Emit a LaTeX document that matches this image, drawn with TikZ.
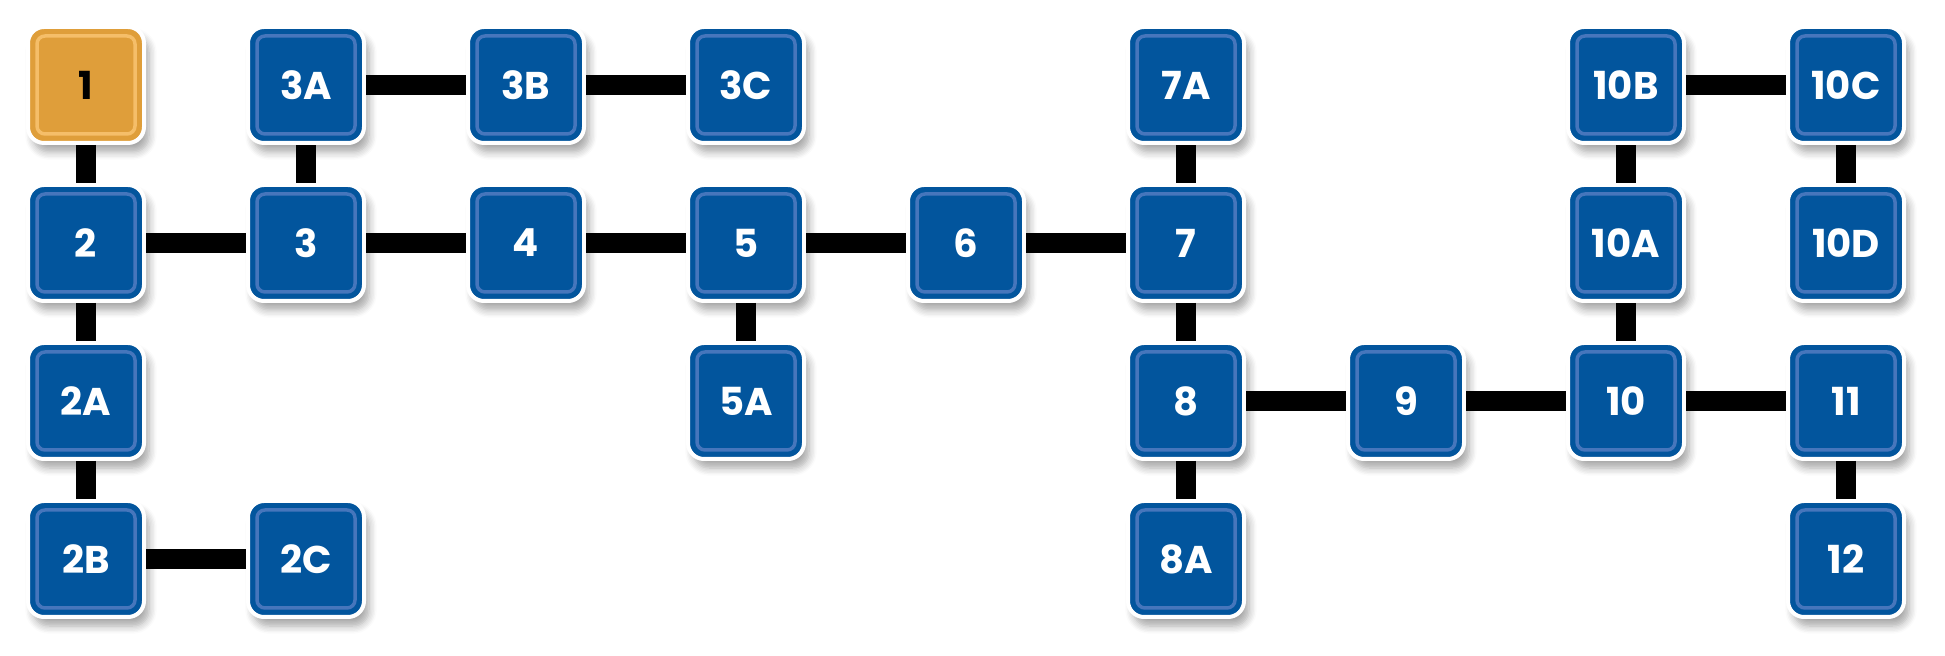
\documentclass[tikz,border=0pt]{standalone}
\usepackage{fontspec}
\setmainfont{Poppins}
\usetikzlibrary{positioning,shadows.blur}
\definecolor{boxblue}{RGB}{2,85,157}
\definecolor{boxrim}{RGB}{70,118,188}
\definecolor{boxorange}{RGB}{223,158,58}
\definecolor{orangerim}{RGB}{245,190,105}
\tikzset{%
  font=\fontsize{11}{13}\selectfont\bfseries,
  node distance=0.38cm and 1.0cm,
  stop/.style={rectangle, rounded corners=1.6mm, draw=white, line width=0.4mm,
    fill=boxblue, text=white, minimum size=1.16cm, inner sep=0pt,
    blur shadow={shadow xshift=0.5mm, shadow yshift=-0.9mm, shadow blur steps=6, shadow opacity=35},
    path picture={\draw[rimcol, line width=0.35mm, rounded corners=0.8mm]
      ([shift={(0.9mm,0.9mm)}]path picture bounding box.south west) rectangle
      ([shift={(-0.9mm,-0.9mm)}]path picture bounding box.north east);}},
  rimcol/.style={boxrim},
  start/.style={stop, fill=boxorange, text=black, rimcol/.style={orangerim}},
  link/.style={draw=black, line width=0.2cm}
}
\begin{document}
\begin{tikzpicture}
\useasboundingbox (0,0) rectangle (19.45,-6.56);
% first column
\node[start] (n1) at (0.86,-0.85) {1};
\node[stop, below=of n1] (n2) {2};
\node[stop, below=of n2] (n2a) {2A};
\node[stop, below=of n2a] (n2b) {2B};
\node[stop, right=of n2b] (n2c) {2C};
% main line
\node[stop, right=of n2] (n3) {3};
\node[stop, above=of n3] (n3a) {3A};
\node[stop, right=of n3a] (n3b) {3B};
\node[stop, right=of n3b] (n3c) {3C};
\node[stop, right=of n3] (n4) {4};
\node[stop, right=of n4] (n5) {5};
\node[stop, below=of n5] (n5a) {5A};
\node[stop, right=of n5] (n6) {6};
\node[stop, right=of n6] (n7) {7};
\node[stop, above=of n7] (n7a) {7A};
\node[stop, below=of n7] (n8) {8};
\node[stop, below=of n8] (n8a) {8A};
\node[stop, right=of n8] (n9) {9};
\node[stop, right=of n9] (n10) {10};
\node[stop, above=of n10] (n10a) {10A};
\node[stop, above=of n10a] (n10b) {10B};
\node[stop, right=of n10b] (n10c) {10C};
\node[stop, below=of n10c] (n10d) {10D};
\node[stop, right=of n10] (n11) {11};
\node[stop, below=of n11] (n12) {12};
% links
\draw[link] (n1) -- (n2);
\draw[link] (n2) -- (n2a);
\draw[link] (n2a) -- (n2b);
\draw[link] (n2b) -- (n2c);
\draw[link] (n2) -- (n3);
\draw[link] (n3) -- (n3a);
\draw[link] (n3a) -- (n3b);
\draw[link] (n3b) -- (n3c);
\draw[link] (n3) -- (n4);
\draw[link] (n4) -- (n5);
\draw[link] (n5) -- (n5a);
\draw[link] (n5) -- (n6);
\draw[link] (n6) -- (n7);
\draw[link] (n7) -- (n7a);
\draw[link] (n7) -- (n8);
\draw[link] (n8) -- (n8a);
\draw[link] (n8) -- (n9);
\draw[link] (n9) -- (n10);
\draw[link] (n10) -- (n10a);
\draw[link] (n10a) -- (n10b);
\draw[link] (n10b) -- (n10c);
\draw[link] (n10c) -- (n10d);
\draw[link] (n10) -- (n11);
\draw[link] (n11) -- (n12);
\end{tikzpicture}
\end{document}
